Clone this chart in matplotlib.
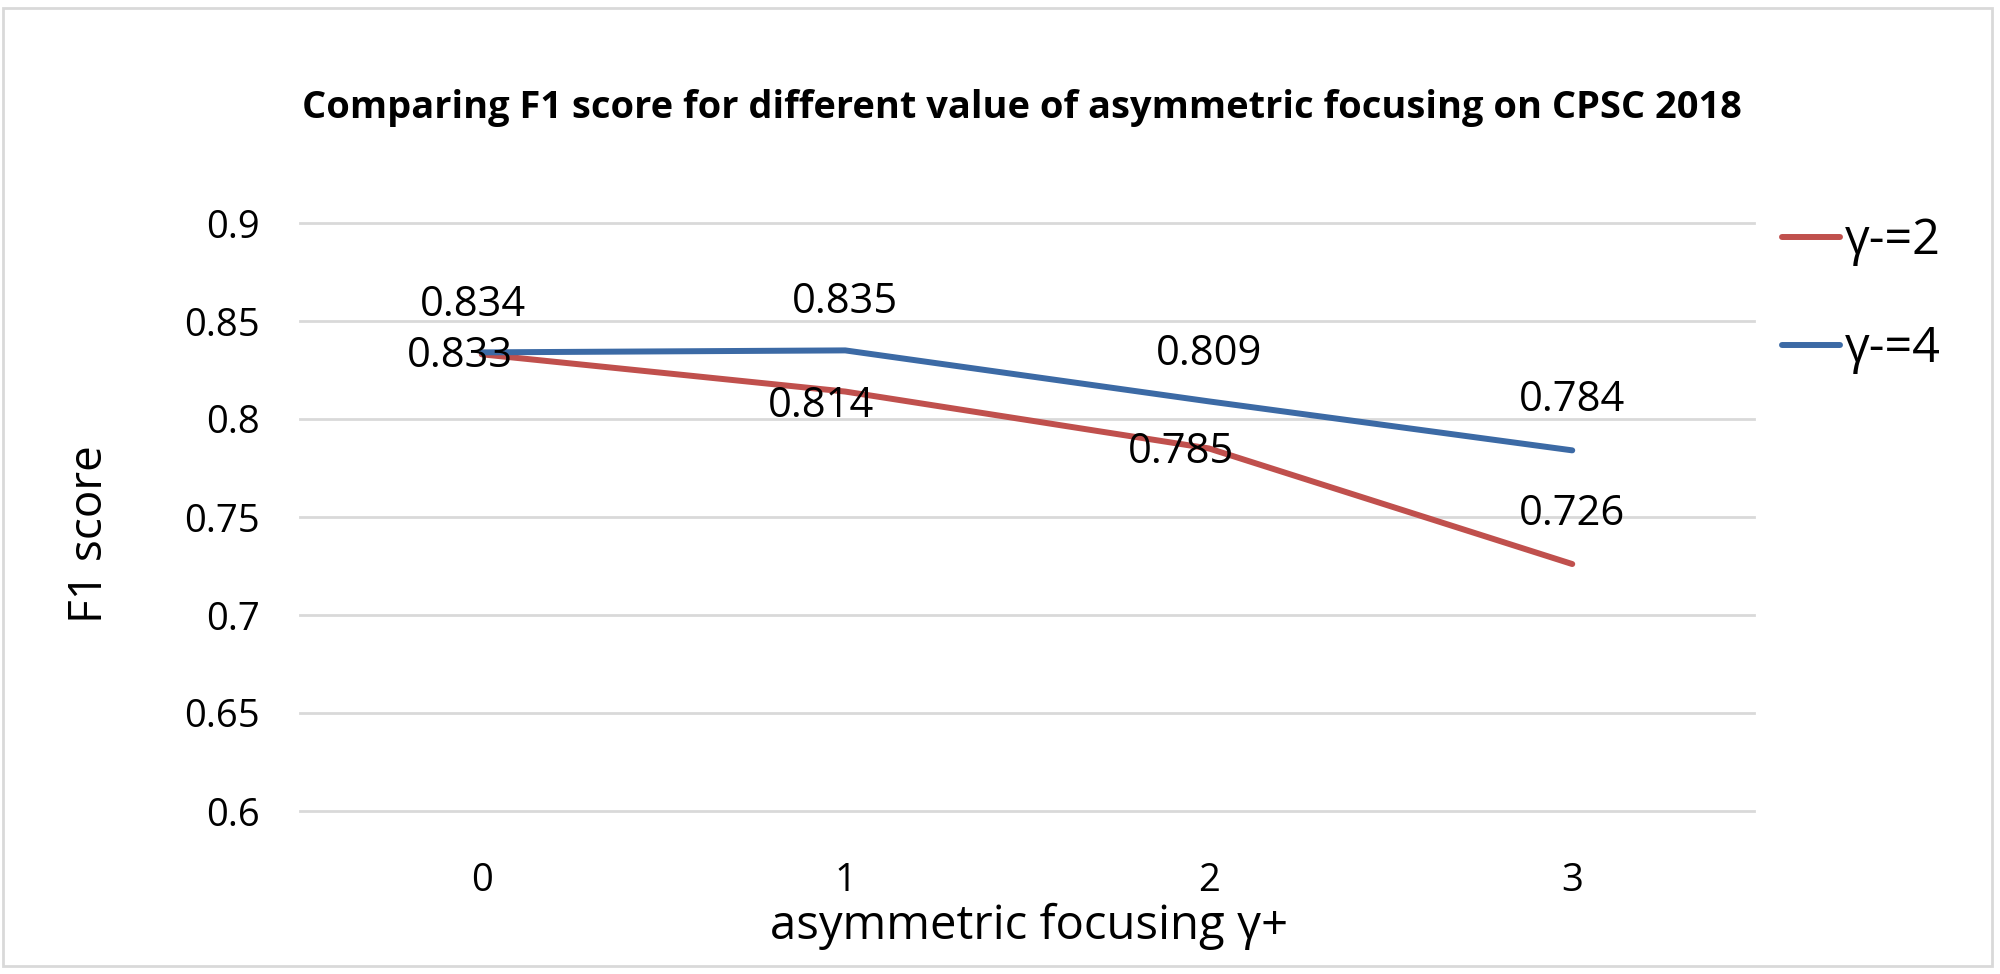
import matplotlib
matplotlib.use("Agg")
import matplotlib.pyplot as plt
from matplotlib import font_manager
from matplotlib.patches import Rectangle

# ---- data ----
categories = ["0", "1", "2", "3"]
series_names = ["γ-=2", "γ-=4"]
gamma2 = [0.833, 0.814, 0.785, 0.726]
gamma4 = [0.834, 0.835, 0.809, 0.784]
yticks = [0.6, 0.65, 0.7, 0.75, 0.8, 0.85, 0.9]
ytick_labels = ["0.6", "0.65", "0.7", "0.75", "0.8", "0.85", "0.9"]
title = "Comparing F1 score for different value of asymmetric focusing on CPSC 2018"
xlabel = "asymmetric focusing γ+"
ylabel = "F1 score"

# label offsets in pixels (style)
off2 = [(-22, -2), (-24, -14), (-28, -4), (0, 50)]
off4 = [(-9, 47), (0, 48), (0, 47), (0, 50)]

avail = {f.name for f in font_manager.fontManager.ttflist}
fam = "DejaVu Sans"
for cand in ["Liberation Sans Narrow", "Open Sans", "Lato"]:
    if cand in avail:
        fam = cand
        break
plt.rcParams["font.family"] = [fam, "DejaVu Sans"]

W, H = 2000, 974
dpi = 100
fig = plt.figure(figsize=(W / dpi, H / dpi), dpi=dpi)
px = 72.0 / dpi  # points per pixel

left, right, top, bottom = 300, 1754, 223, 811
ax = fig.add_axes([left / W, 1 - bottom / H, (right - left) / W, (bottom - top) / H])

x = list(range(len(categories)))
red = "#C0504D"
blue = "#3C6AA5"
l1, = ax.plot(x, gamma2, color=red, lw=4.3, solid_capstyle="round", label=series_names[0], zorder=3)
l2, = ax.plot(x, gamma4, color=blue, lw=4.3, solid_capstyle="round", label=series_names[1], zorder=3)

ax.set_xlim(-0.5, len(categories) - 0.5)
ax.set_ylim(0.6, 0.9)
ax.set_yticks(yticks)
ax.set_yticklabels(ytick_labels)
ax.set_xticks(x)
ax.set_xticklabels(categories)
ax.tick_params(axis="both", length=0, labelsize=27.5)
ax.tick_params(axis="y", pad=29)
ax.tick_params(axis="x", pad=37)
for s in ax.spines.values():
    s.set_visible(False)
ax.grid(axis="y", color="#D9D9D9", lw=2)
ax.set_axisbelow(True)
for gl in ax.get_ygridlines():
    gl.set_clip_on(False)

fs_lab = 30
for xi, v, (dx, dy) in zip(x, gamma2, off2):
    ax.annotate(f"{v:.3f}", (xi, v), xytext=(dx * px, dy * px), textcoords="offset points",
                ha="center", va="center", fontsize=fs_lab, zorder=4)
for xi, v, (dx, dy) in zip(x, gamma4, off4):
    ax.annotate(f"{v:.3f}", (xi, v), xytext=(dx * px, dy * px), textcoords="offset points",
                ha="center", va="center", fontsize=fs_lab, zorder=4)

fig.text(1022 / W, 1 - 108 / H, title, ha="center", va="center", fontsize=27.4, fontweight="bold")
fig.text(1029 / W, 1 - 926 / H, xlabel, ha="center", va="center", fontsize=34)
fig.text(90 / W, 1 - 534 / H, ylabel, ha="center", va="center", fontsize=33, rotation=90)

leg = fig.legend(handles=[l1, l2], labels=series_names, loc="upper left",
                 bbox_to_anchor=(1782 / W, 1 - 217 / H), frameon=False, fontsize=35,
                 borderpad=0, borderaxespad=0,
                 handlelength=1.2, handletextpad=0.1, labelspacing=1.2)

fig.patches.append(Rectangle((3 / W, 8 / H), (1992 - 3) / W, (966 - 8) / H, transform=fig.transFigure,
                             fill=False, edgecolor="#D9D9D9", lw=2))

fig.savefig("out.png", dpi=dpi, facecolor="white")
